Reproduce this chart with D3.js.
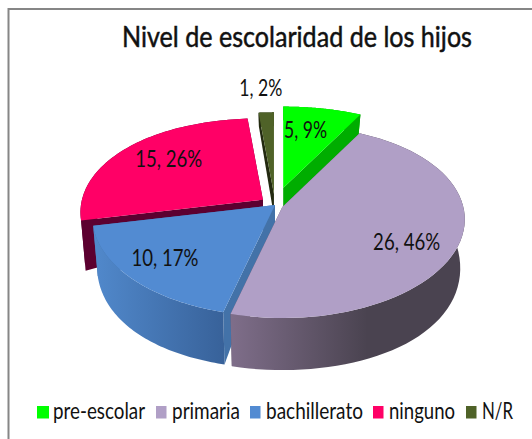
<!DOCTYPE html>
<html>
<head>
<meta charset="utf-8">
<script src="https://cdn.jsdelivr.net/npm/d3@7"></script>
<style>
  html, body { margin: 0; padding: 0; background: #fff; }
  svg { display: block; }
  text { font-family: Lato, "Open Sans", sans-serif; fill: #111; }
</style>
</head>
<body>
<div id="chart"></div>
<script>
// Chart data
const categories = ['pre-escolar', 'primaria', 'bachillerato', 'ninguno', 'N/R'];
const counts = [5, 26, 10, 15, 1];
const percents = [9, 46, 17, 26, 2];
const chartTitle = 'Nivel de escolaridad de los hijos';

// Styles per slice
const topColors = ['#00ff00', '#b09fc6', '#528bd2', '#ff0066', '#4f6228'];
const sideColors = ['#00ad00', '#5e5266', '#4372a8', '#5c0030', '#232a10'];
const wallLeft = ['#00ad00', '#7f6e8a', '#5189cc', '#5c0030', '#232a10'];
const wallRight = ['#00ad00', '#4a4350', '#38629a', '#5c0030', '#232a10'];
const explode = [30, 8, 0, 15, 19];
const labelDist = [0.72, 0.73, 0.75, 0.73, 1.3];
const labelTurn = [-3, 2, 3, 0, -1];  // degrees, nudges labels along the rim
const drawOrder = [4, 3, 0, 2, 1];  // back to front

const W = 532, H = 439;
const cx = 275, cy = 205, radius = 181, tilt = 0.585;

const svg = d3.select('#chart').append('svg')
    .attr('width', W)
    .attr('height', H);

const defs = svg.append('defs');

// Frame
svg.append('path')
    .attr('d', 'M8.5,' + H + 'V9H' + W)
    .attr('fill', 'none')
    .attr('stroke', '#868686')
    .attr('stroke-width', 2);

// Title
svg.append('text')
    .attr('x', 297)
    .attr('y', 47)
    .attr('text-anchor', 'middle')
    .attr('font-size', 29)
    .attr('stroke', '#111')
    .attr('stroke-width', 0.5)
    .attr('textLength', 350)
    .attr('lengthAdjust', 'spacingAndGlyphs')
    .text(chartTitle);

const pie = d3.pie().sort(null);
const arcs = pie(counts);

// Rough perspective: the far rim shrinks, the near rim grows and gets a taller wall
function rimRadius(n) { return radius * (1 + 0.14 * n - 0.09 * n * n); }
function wallHeight(n) { return 47 + 19 * n - 14 * n * n; }

function project(c, angle, t, withDrop) {
    const n = -Math.cos(angle);
    const r = rimRadius(n) * t;
    const shrink = withDrop ? 0.975 : 1;
    return [
        c[0] + r * Math.sin(angle) * shrink,
        c[1] + r * n * tilt + (withDrop ? (t > 0 ? wallHeight(n) : 22) : 0)
    ];
}

function sliceCenter(a, i) {
    const mid = (a.startAngle + a.endAngle) / 2;
    return [cx + explode[i] * Math.sin(mid), cy - explode[i] * Math.cos(mid) * tilt];
}

const line = d3.line();

function angleSteps(a) {
    return d3.range(0, 61).map(k => a.startAngle + (a.endAngle - a.startAngle) * k / 60);
}

drawOrder.forEach(i => {
    const a = arcs[i];
    const c = sliceCenter(a, i);
    const steps = angleSteps(a);
    const g = svg.append('g').attr('class', 'slice');

    // Radial side faces
    [a.startAngle, a.endAngle].forEach(ang => {
        g.append('path')
            .attr('d', line([project(c, ang, 0, false), project(c, ang, 1, false),
                project(c, ang, 1, true), project(c, ang, 0, true)]) + 'Z')
            .attr('fill', sideColors[i]);
    });

    // Outer wall
    const topEdge = steps.map(s => project(c, s, 1, false));
    const bottomEdge = steps.map(s => project(c, s, 1, true)).reverse();
    const xs = topEdge.map(p => p[0]).filter((x, k) => -Math.cos(steps[k]) > 0);
    const grad = defs.append('linearGradient')
        .attr('id', 'wall' + i)
        .attr('gradientUnits', 'userSpaceOnUse')
        .attr('x1', d3.min(xs) || c[0])
        .attr('x2', i === 1 ? c[0] + 85 : (d3.max(xs) || c[0]))
        .attr('y1', 0)
        .attr('y2', 0);
    grad.append('stop').attr('offset', 0).attr('stop-color', wallLeft[i]);
    grad.append('stop').attr('offset', 1).attr('stop-color', wallRight[i]);
    g.append('path')
        .attr('d', line(topEdge.concat(bottomEdge)) + 'Z')
        .attr('fill', 'url(#wall' + i + ')');

    // Top face
    g.append('path')
        .attr('d', line([project(c, a.startAngle, 0, false)].concat(topEdge)) + 'Z')
        .attr('fill', topColors[i]);
});

// Value labels
arcs.forEach((a, i) => {
    const mid = (a.startAngle + a.endAngle) / 2 + labelTurn[i] * Math.PI / 180;
    const p = project(sliceCenter(a, i), mid, labelDist[i], false);
    svg.append('text')
        .attr('x', p[0])
        .attr('y', p[1] + 8)
        .attr('text-anchor', 'middle')
        .attr('font-size', 24)
        .attr('textLength', counts[i] >= 10 ? 67 : 43)
        .attr('lengthAdjust', 'spacingAndGlyphs')
        .text(counts[i] + ', ' + percents[i] + '%');
});

// Legend
const legendX = [37, 156, 250, 373, 466];
const legendW = [92, 68, 97, 66, 31];
const legend = svg.selectAll('g.legend')
    .data(categories)
    .join('g')
    .attr('class', 'legend')
    .attr('transform', (d, i) => 'translate(' + legendX[i] + ',406)');
legend.append('rect')
    .attr('width', (d, i) => i === 0 ? 12 : 10.5)
    .attr('height', 12.5)
    .attr('fill', (d, i) => topColors[i]);
legend.append('text')
    .attr('x', 16)
    .attr('y', 13)
    .attr('font-size', 23)
    .attr('textLength', (d, i) => legendW[i])
    .attr('lengthAdjust', 'spacingAndGlyphs')
    .text(d => d);
</script>
</body>
</html>
